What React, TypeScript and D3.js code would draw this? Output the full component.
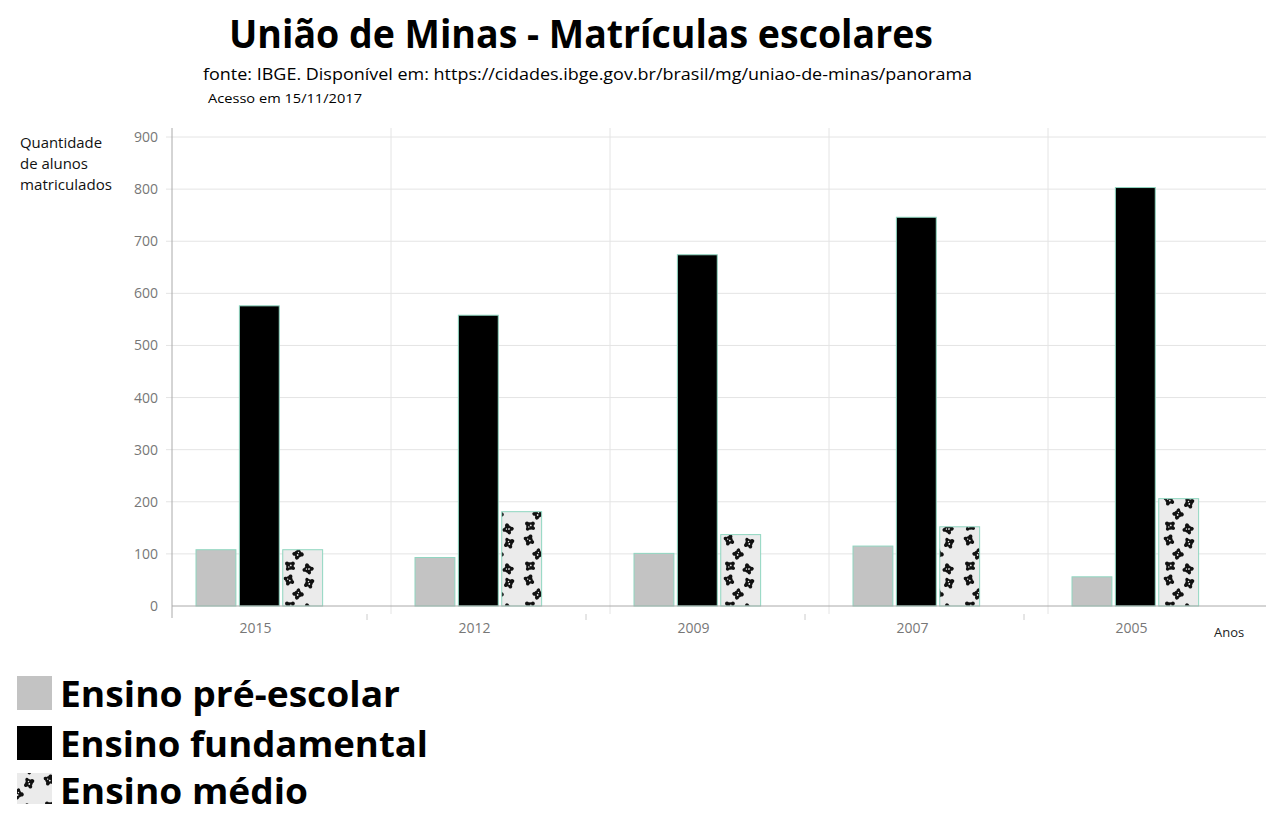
import * as d3 from "d3";

const years = ["2015", "2012", "2009", "2007", "2005"];
const preEscolar = [108, 93, 101, 115, 56];
const fundamental = [576, 558, 674, 746, 803];
const medio = [108, 181, 137, 152, 206];
const yTicks = [0, 100, 200, 300, 400, 500, 600, 700, 800, 900];
const legendLabels = ["Ensino pré-escolar", "Ensino fundamental", "Ensino médio"];

const W = 1266;
const H = 815;
const plot = { left: 172, right: 1267, top: 128, bottom: 606 };

// blob centres for the "paw print" fill of ensino médio
const blobs = [
  [10, 6], [28, 9], [9, 20], [29, 23], [18, 34],
];

export default function App() {
  const x0 = d3.scaleBand().domain(years).range([plot.left, plot.right]);
  const x1 = d3
    .scaleBand()
    .domain(["pre", "fund", "medio", "vazio"])
    .range([24, 194])
    .paddingInner(0.08);
  const y = d3.scaleLinear().domain([0, 900]).range([plot.bottom, 137]);

  const series = [
    { key: "pre", values: preEscolar, fill: "#c3c3c3" },
    { key: "fund", values: fundamental, fill: "#000000" },
    { key: "medio", values: medio, fill: "url(#paw)" },
  ];

  const bw = x0.bandwidth();

  return (
    <svg width={W} height={H} style={{ position: "absolute", left: 0, top: 0, background: "#fff" }}>
      <defs>
        <pattern id="paw" patternUnits="userSpaceOnUse" width="40" height="40" x="0" y="0">
          <rect width="40" height="40" fill="#ebebeb" />
          {blobs.map(([bx, by], i) => (
            <g key={i} fill="#111" transform={`rotate(${i * 37} ${bx} ${by})`}>
              <circle cx={bx} cy={by} r={3.8} />
              <circle cx={bx - 3} cy={by - 2.4} r={2} />
              <circle cx={bx + 2.9} cy={by - 2.6} r={1.9} />
              <circle cx={bx + 3.2} cy={by + 2.2} r={1.8} />
              <circle cx={bx - 2.4} cy={by + 3} r={1.8} />
              <circle cx={bx + 0.8} cy={by - 0.6} r={0.9} fill="#ebebeb" />
              <circle cx={bx - 1.2} cy={by + 1} r={0.7} fill="#ebebeb" />
            </g>
          ))}
        </pattern>
      </defs>

      <text x={581} y={48} textAnchor="middle" fontFamily="'Open Sans', sans-serif" fontWeight={700}
        fontSize={40} textLength={704} lengthAdjust="spacingAndGlyphs" fill="#000">
        União de Minas - Matrículas escolares
      </text>
      <text x={203} y={80} fontFamily="'Open Sans', sans-serif" fontSize={16} textLength={769}
        lengthAdjust="spacingAndGlyphs" fill="#000">
        fonte: IBGE. Disponível em: https://cidades.ibge.gov.br/brasil/mg/uniao-de-minas/panorama
      </text>
      <text x={208} y={103} fontFamily="'Open Sans', sans-serif" fontSize={12} textLength={154}
        lengthAdjust="spacingAndGlyphs" fill="#000">
        Acesso em 15/11/2017
      </text>

      {/* y-axis title */}
      <g fontFamily="'Open Sans', sans-serif" fontSize={14} fill="#111">
        <text x={20} y={148} textLength={82} lengthAdjust="spacingAndGlyphs">Quantidade</text>
        <text x={20} y={169} textLength={68} lengthAdjust="spacingAndGlyphs">de alunos</text>
        <text x={20} y={190} textLength={92} lengthAdjust="spacingAndGlyphs">matriculados</text>
      </g>

      {/* horizontal grid */}
      {yTicks.map((t) => (
        <g key={t}>
          {t > 0 && (
            <line x1={166} x2={plot.right} y1={y(t)} y2={y(t)} stroke="#e4e4e4" strokeWidth={1} />
          )}
          <text x={158} y={y(t) + 5} textAnchor="end" fontFamily="'Open Sans', sans-serif"
            fontSize={14} fill="#777">
            {t}
          </text>
        </g>
      ))}

      {/* vertical separators */}
      {years.slice(1).map((yr) => (
        <line key={yr} x1={x0(yr)} x2={x0(yr)} y1={plot.top} y2={614} stroke="#e4e4e4" />
      ))}

      {/* bars */}
      {series.map((s) =>
        years.map((yr, i) => (
          <rect
            key={s.key + yr}
            x={(x0(yr) ?? 0) + (x1(s.key) ?? 0)}
            y={y(s.values[i])}
            width={x1.bandwidth()}
            height={plot.bottom - y(s.values[i])}
            fill={s.fill}
            stroke="#8fd6c0"
            strokeWidth={1}
          />
        ))
      )}

      {/* axes */}
      <line x1={plot.left} x2={plot.left} y1={plot.top} y2={618} stroke="#aaa" />
      <line x1={plot.left} x2={plot.right} y1={plot.bottom} y2={plot.bottom} stroke="#aaa" />
      {years.slice(0, 4).map((yr) => (
        <line key={yr} x1={(x0(yr) ?? 0) + bw - 24} x2={(x0(yr) ?? 0) + bw - 24}
          y1={614} y2={620} stroke="#ccc" />
      ))}
      {years.map((yr) => (
        <text key={yr} x={(x0(yr) ?? 0) + bw / 2 - 26} y={633} textAnchor="middle"
          fontFamily="'Open Sans', sans-serif" fontSize={14} fill="#777">
          {yr}
        </text>
      ))}
      <text x={1214} y={637} fontFamily="'Open Sans', sans-serif" fontSize={13} fill="#222">
        Anos
      </text>

      {/* legend */}
      {legendLabels.map((lab, i) => {
        const top = [676, 726, 773][i];
        const widths = [340, 368, 248];
        const fills = ["#c3c3c3", "#000", "url(#paw)"];
        return (
          <g key={lab}>
            <rect x={17} y={top} width={35} height={i === 2 ? 31 : 34} fill={fills[i]} />
            <text x={60} y={top + 31} fontFamily="'Open Sans', sans-serif" fontWeight={700}
              fontSize={36} textLength={widths[i]} lengthAdjust="spacingAndGlyphs" fill="#000">
              {lab}
            </text>
          </g>
        );
      })}
    </svg>
  );
}
